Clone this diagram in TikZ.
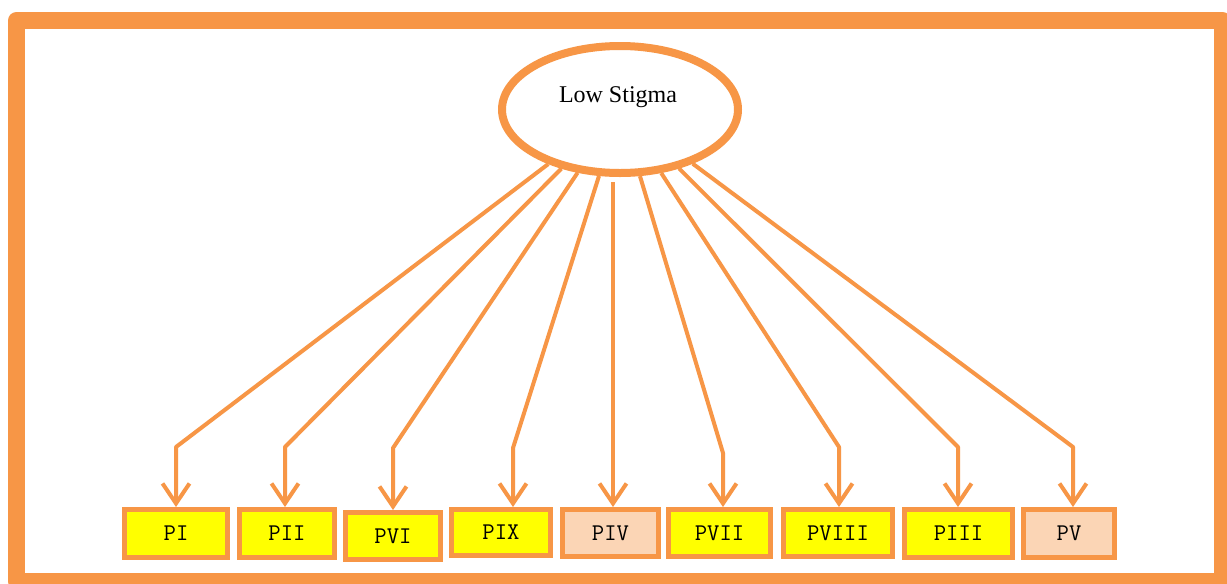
\documentclass[tikz,border=0pt]{standalone}
\usepackage{fontspec}
\setmainfont{Liberation Serif}
\usetikzlibrary{arrows.meta,shapes.geometric}
\definecolor{orng}{HTML}{F79646}
\definecolor{yel}{HTML}{FFFF00}
\definecolor{peach}{HTML}{FBD5B5}
\tikzset{
  frame/.style={draw=orng, line width=17pt, line join=round},
  latent/.style={ellipse, draw=orng, line width=8pt, fill=white, inner sep=0pt,
    minimum width=236pt, minimum height=127pt},
  pbox/.style={rectangle, draw=orng, line width=5pt, inner sep=0pt,
    font=\ttfamily\fontsize{24}{26}\selectfont, text=black},
  ybox/.style={pbox, fill=yel},
  obox/.style={pbox, fill=peach},
  arr/.style={draw=orng, line width=4pt, line join=round,
    -{Straight Barb[length=20pt,width=27pt,line width=4pt]}}
}
\begin{document}
\begin{tikzpicture}[x=1pt,y=-1pt]
\useasboundingbox (0,0) rectangle (1227,584);
\fill[white] (0,0) rectangle (1227,584);
\draw[frame] (16.5,20.5) rectangle (1222.5,581.5);
% latent variable
\node[latent] (L) at (620,109.5) {};
\node[font=\fontsize{24}{26}\selectfont] (Lt) at (618,97) {Low Stigma};
% indicators
\node[ybox, minimum width=103pt, minimum height=48pt] (PI)    at (176,533.5)  {PI};
\node[ybox, minimum width=95pt,  minimum height=48pt] (PII)   at (287,533.5)  {PII};
\node[ybox, minimum width=95pt,  minimum height=47pt] (PVI)   at (393,536)    {PVI};
\node[ybox, minimum width=99pt,  minimum height=46pt] (PIX)   at (501,532.5)  {PIX};
\node[obox, minimum width=96pt,  minimum height=47pt] (PIV)   at (610.5,533)  {PIV};
\node[ybox, minimum width=102pt, minimum height=47pt] (PVII)  at (719.5,533)  {PVII};
\node[ybox, minimum width=109pt, minimum height=47pt] (PVIII) at (838,533)    {PVIII};
\node[ybox, minimum width=108pt, minimum height=48pt] (PIII)  at (958.5,533.5){PIII};
\node[obox, minimum width=91pt,  minimum height=48pt] (PV)    at (1069,533.5) {PV};
% bend points
\coordinate (b1) at (176,447);
\coordinate (b2) at (285,447);
\coordinate (b3) at (393,448);
\coordinate (b4) at (513,448);
\coordinate (b5) at (613,447);
\coordinate (b6) at (723,453);
\coordinate (b7) at (839,447);
\coordinate (b8) at (958,447);
\coordinate (b9) at (1073,447);
% connectors
\draw[arr] (L) -- (b1) -- (b1 |- PI.north);
\draw[arr] (L) -- (b2) -- (b2 |- PII.north);
\draw[arr] (L) -- (b3) -- (b3 |- PVI.north);
\draw[arr] (L) -- (b4) -- (b4 |- PIX.north);
\draw[arr, shorten <=5pt] (b5 |- L.south) -- (b5 |- PIV.north);
\draw[arr] (L) -- (b6) -- (b6 |- PVII.north);
\draw[arr] (L) -- (b7) -- (b7 |- PVIII.north);
\draw[arr] (L) -- (b8) -- (b8 |- PIII.north);
\draw[arr] (L) -- (b9) -- (b9 |- PV.north);
\end{tikzpicture}
\end{document}
